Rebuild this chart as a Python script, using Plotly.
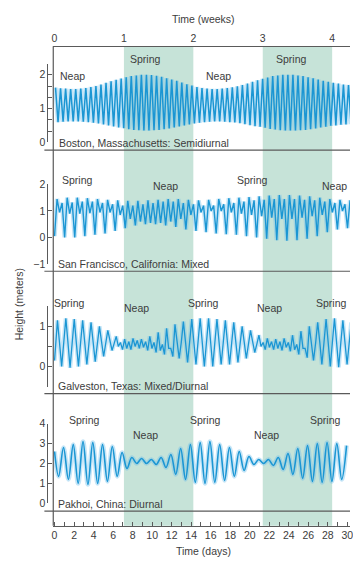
import plotly.graph_objects as go

W, H = 353, 568

# ---------------- data ----------------
day_ticks = list(range(0, 31, 2))
week_ticks = [0, 1, 2, 3, 4]
spring_weeks = [(1, 2), (3, 4)]

# Boston (semidiurnal): one high and one low per tidal cycle
boston_t0, boston_period = 0.1, 0.5175
boston_high = [1.62, 1.60, 1.59, 1.58, 1.58, 1.59, 1.61, 1.64, 1.67, 1.71,
               1.76, 1.81, 1.85, 1.89, 1.93, 1.96, 1.98, 2.00, 2.00, 1.99,
               1.97, 1.94, 1.90, 1.86, 1.82, 1.77, 1.72, 1.68, 1.64, 1.61,
               1.59, 1.58, 1.58, 1.59, 1.61, 1.63, 1.66, 1.70, 1.74, 1.79,
               1.84, 1.88, 1.92, 1.96, 1.98, 2.00, 2.00, 2.00, 1.98, 1.96,
               1.93, 1.90, 1.86, 1.82, 1.79, 1.76, 1.74, 1.71, 1.70]
boston_low = [0.60, 0.61, 0.62, 0.62, 0.62, 0.61, 0.60, 0.58, 0.56, 0.53,
              0.50, 0.47, 0.44, 0.42, 0.39, 0.37, 0.36, 0.35, 0.35, 0.36,
              0.37, 0.39, 0.41, 0.44, 0.47, 0.50, 0.53, 0.56, 0.58, 0.60,
              0.61, 0.62, 0.62, 0.61, 0.60, 0.59, 0.57, 0.54, 0.51, 0.48,
              0.46, 0.43, 0.40, 0.38, 0.36, 0.35, 0.35, 0.35, 0.36, 0.37,
              0.39, 0.41, 0.44, 0.46, 0.49, 0.50, 0.52, 0.53, 0.54]

# San Francisco (mixed): per tidal day -> deep low, high 1, shallow low, high 2
sf_t0, sf_period = 0.0, 1.035
sf_deep_low = [0.05, 0.00, 0.00, 0.05, 0.10, 0.15, 0.25, 0.35, 0.45, 0.50,
               0.50, 0.45, 0.40, 0.30, 0.25, 0.20, 0.15, 0.12, 0.10, 0.05,
               0.00, -0.05, -0.10, -0.12, -0.10, -0.05, 0.05, 0.20, 0.30, 0.35]
sf_high1 = [1.45, 1.50, 1.50, 1.48, 1.45, 1.42, 1.40, 1.38, 1.38, 1.40,
            1.42, 1.45, 1.45, 1.42, 1.40, 1.42, 1.45, 1.48, 1.50, 1.52,
            1.55, 1.58, 1.60, 1.60, 1.58, 1.55, 1.50, 1.45, 1.42, 1.40]
sf_shallow_low = [0.95, 0.90, 0.90, 0.92, 0.95, 0.95, 0.85, 0.70, 0.60, 0.55,
                  0.55, 0.60, 0.70, 0.85, 0.95, 1.00, 1.00, 0.95, 0.90, 0.85,
                  0.80, 0.75, 0.70, 0.70, 0.75, 0.80, 0.85, 0.95, 1.00, 1.00]
sf_high2 = [1.30, 1.32, 1.35, 1.35, 1.30, 1.25, 1.20, 1.20, 1.25, 1.30,
            1.35, 1.35, 1.30, 1.25, 1.20, 1.20, 1.25, 1.30, 1.35, 1.40,
            1.42, 1.45, 1.45, 1.45, 1.42, 1.40, 1.35, 1.30, 1.25, 1.20]

# Galveston (mixed/diurnal): per cycle, heights at quarter-cycle steps
galv_start = 0.15
galv_t0, galv_period = 0.3, 0.86
galv_q0 = [1.15, 1.20, 1.18, 1.15, 1.10, 1.00, 0.90, 0.75, 0.68, 0.70,
           0.68, 0.75, 0.85, 0.95, 1.05, 1.12, 1.18, 1.20, 1.20, 1.18,
           1.15, 1.10, 1.00, 0.90, 0.78, 0.70, 0.68, 0.70, 0.78, 0.88,
           1.00, 1.10, 1.18, 1.20, 1.15, 1.10]
galv_q1 = [0.58, 0.60, 0.59, 0.60, 0.61, 0.62, 0.65, 0.50, 0.45, 0.50,
           0.48, 0.45, 0.40, 0.45, 0.62, 0.62, 0.60, 0.60, 0.60, 0.61,
           0.60, 0.60, 0.60, 0.62, 0.50, 0.48, 0.45, 0.48, 0.42, 0.45,
           0.58, 0.60, 0.60, 0.60, 0.60, 0.60]
galv_q2 = [0.00, -0.03, 0.00, 0.05, 0.12, 0.25, 0.40, 0.60, 0.62, 0.65,
           0.62, 0.60, 0.55, 0.45, 0.20, 0.10, 0.05, 0.00, 0.00, 0.05,
           0.05, 0.10, 0.20, 0.35, 0.60, 0.62, 0.62, 0.60, 0.55, 0.45,
           0.15, 0.05, 0.00, -0.02, 0.05, 0.10]
galv_q3 = [0.60, 0.58, 0.58, 0.58, 0.56, 0.58, 0.57, 0.42, 0.42, 0.45,
           0.40, 0.35, 0.30, 0.25, 0.60, 0.62, 0.62, 0.60, 0.60, 0.60,
           0.58, 0.55, 0.55, 0.56, 0.42, 0.42, 0.40, 0.38, 0.30, 0.22,
           0.58, 0.60, 0.60, 0.58, 0.58, 0.60]

# Pakhoi (diurnal): one low and one high per day
pak_start = 2.6
pak_t0, pak_period = 0.42, 1.0
pak_low = [1.35, 1.20, 1.00, 0.95, 1.00, 1.10, 1.35, 1.75, 2.00, 2.00,
           1.95, 1.80, 1.45, 1.20, 1.05, 1.00, 1.05, 1.15, 1.35, 1.65,
           1.95, 2.00, 1.90, 1.70, 1.45, 1.25, 1.10, 1.05, 1.10, 1.20]
pak_high = [2.80, 2.95, 3.10, 3.05, 2.95, 2.85, 2.55, 2.30, 2.25, 2.20,
            2.30, 2.45, 2.75, 2.95, 3.05, 3.10, 2.95, 2.80, 2.60, 2.35,
            2.20, 2.20, 2.30, 2.50, 2.75, 2.90, 3.00, 3.05, 3.00, 2.90]

# ---------------- build sequences ----------------
def seq_from_cycles(t0, period, columns, start=None):
    xs, ys = [], []
    if start is not None:
        xs.append(0.0)
        ys.append(start)
    n = len(columns)
    for k in range(len(columns[0])):
        base = t0 + k * period
        for j, col in enumerate(columns):
            xs.append(base + j * period / n)
            ys.append(col[k])
    return xs, ys

bx, by = seq_from_cycles(boston_t0, boston_period, [boston_high, boston_low])
sx, sy = seq_from_cycles(sf_t0, sf_period, [sf_deep_low, sf_high1, sf_shallow_low, sf_high2])
gx, gy = seq_from_cycles(galv_t0, galv_period, [galv_q0, galv_q1, galv_q2, galv_q3], start=galv_start)
px_, py_ = seq_from_cycles(pak_t0, pak_period, [pak_low, pak_high], start=pak_start)

BLUE = "#1b96d3"
GLOW = "rgba(110,190,235,0.40)"
FONT = "Liberation Sans, Arial, sans-serif"
TXT = "#3c3c3c"
AX = "#5a5a5a"

fig = go.Figure()

def add_series(x, y, yaxis, shape="linear", w=1.4):
    fig.add_trace(go.Scatter(x=x, y=y, xaxis="x", yaxis=yaxis, mode="lines",
                             line=dict(color=GLOW, width=w + 3, shape=shape),
                             hoverinfo="skip", showlegend=False))
    fig.add_trace(go.Scatter(x=x, y=y, xaxis="x", yaxis=yaxis, mode="lines",
                             line=dict(color=BLUE, width=w, shape=shape),
                             showlegend=False))

add_series(bx, by, "y", w=1.5)
add_series(sx, sy, "y2", w=1.4)
add_series(gx, gy, "y3", w=1.3)
add_series(px_, py_, "y4", shape="spline", w=1.6)

# dummy trace so the week axis is drawn
fig.add_trace(go.Scatter(x=[None], y=[None], xaxis="x2", yaxis="y", showlegend=False))

def P(px, py):
    return px / W, 1 - py / H

x_left = 52 / W
y_axis_pos = 46 / W

def yax(dom_px, rng, tickvals, ticktext):
    return dict(domain=[1 - dom_px[0] / H, 1 - dom_px[1] / H], range=rng,
                anchor="free", position=y_axis_pos, showline=True,
                linecolor=AX, linewidth=1, ticks="inside", ticklen=4,
                tickcolor=AX, tickvals=tickvals, ticktext=ticktext,
                showgrid=False, zeroline=False,
                tickfont=dict(family=FONT, size=10.5, color=TXT))

fig.update_layout(
    width=W, height=H, margin=dict(l=0, r=0, t=0, b=0),
    paper_bgcolor="white", plot_bgcolor="rgba(0,0,0,0)",
    xaxis=dict(domain=[x_left, 1], range=[-0.13, 30.27], anchor="free",
               position=1 - 531 / H, showline=True, linecolor=AX, linewidth=1,
               ticks="inside", ticklen=4, tickcolor=AX, tickvals=day_ticks,
               minor=dict(dtick=1, tick0=0, ticks="inside", ticklen=4, tickcolor=AX),
               showgrid=False, zeroline=False, ticklabeloverflow="allow",
               tickfont=dict(family=FONT, size=10.5, color=TXT)),
    xaxis2=dict(domain=[x_left, 1], range=[-0.018, 4.257], overlaying="x",
                side="top", anchor="free", position=1 - 41 / H, showline=True,
                linecolor=AX, linewidth=1, ticks="", tickvals=week_ticks,
                showgrid=False, zeroline=False,
                tickfont=dict(family=FONT, size=10.5, color=TXT)),
    yaxis=yax((139.3, 58.9), [0, 2.33],
              [0, 1/3, 2/3, 1, 4/3, 5/3, 2, 7/3], ["0", "", "", "1", "", "", "2", ""]),
    yaxis2=yax((263.5, 182.3), [-1, 2], [-1, 0, 1, 2], ["\u22121", "0", "1", "2"]),
    yaxis3=yax((388.8, 306.8), [-0.5, 1.5], [-0.5, 0, 0.5, 1, 1.5], ["", "0", "", "1", ""]),
    yaxis4=yax((508.0, 426.7), [0, 4], [0, 1, 2, 3, 4], ["0", "1", "2", "3", "4"]),
)

shapes = []
for w0, w1 in spring_weeks:
    shapes.append(dict(type="rect", xref="x2", x0=w0, x1=w1, yref="paper",
                       y0=1 - 531 / H, y1=1 - 41 / H, fillcolor="#c6e3d8",
                       line=dict(width=0), layer="below"))
for yy in [147.3, 271.0, 396.0, 516.0]:
    shapes.append(dict(type="line", xref="paper", yref="paper", x0=43 / W, x1=1,
                       y0=1 - yy / H, y1=1 - yy / H, line=dict(color=AX, width=1.2)))
shapes.append(dict(type="line", xref="paper", yref="paper", x0=x_left, x1=x_left,
                   y0=1 - 531 / H, y1=1 - 41 / H, line=dict(color=AX, width=1.2)))
fig.update_layout(shapes=shapes)

ann = []
def text(t, pxx, pyy, anchor="center", size=10.5, angle=0):
    x, y = P(pxx, pyy)
    ann.append(dict(text=t, x=x, y=y, xref="paper", yref="paper", showarrow=False,
                    xanchor=anchor, yanchor="middle", textangle=angle,
                    font=dict(family=FONT, size=size, color=TXT)))

text("Time (weeks)", 204, 13)
text("Time (days)", 204, 557)
text("Height (meters)", 17, 305, angle=-90)

text("Boston, Massachusetts: Semidiurnal", 56, 139.5, "left")
text("San Francisco, California: Mixed", 55, 264, "left")
text("Galveston, Texas: Mixed/Diurnal", 55, 388.5, "left")
text("Pakhoi, China: Diurnal", 55, 508.5, "left")

# Boston
text("Neap", 71.5, 71); text("Spring", 146, 54); text("Neap", 220, 71); text("Spring", 294, 54)
# San Francisco
text("Spring", 76.5, 178); text("Neap", 165.5, 184); text("Spring", 254, 178); text("Neap", 352, 184, "right")
# Galveston
text("Spring", 68.5, 303); text("Neap", 136, 309); text("Spring", 204.5, 303)
text("Neap", 271, 309); text("Spring", 352, 303, "right")
# Pakhoi
text("Spring", 83.5, 423); text("Spring", 206.5, 423); text("Spring", 328.5, 423)
text("Neap", 145.5, 438); text("Neap", 268, 438)

fig.update_layout(annotations=ann)

fig.write_html("out.html", config={"displayModeBar": False},
               post_script="document.body.style.margin='0';document.body.style.overflow='hidden';")
